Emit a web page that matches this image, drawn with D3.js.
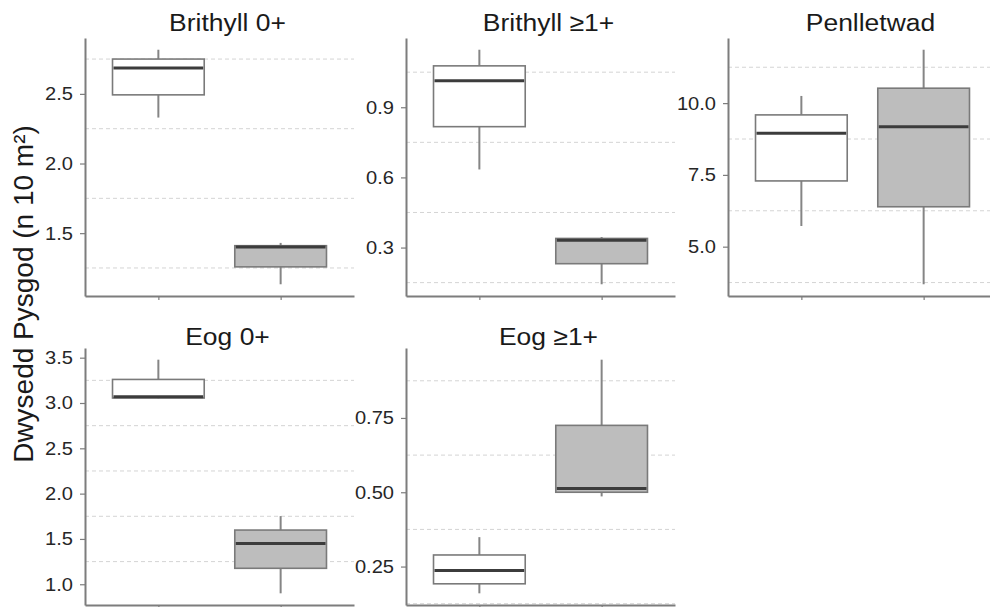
<!DOCTYPE html>
<html>
<head>
<meta charset="utf-8">
<script src="https://cdn.jsdelivr.net/npm/d3@7"></script>
<style>
  body { margin: 0; background: #fff; }
  svg { display: block; }
</style>
</head>
<body>
<svg id="chart" width="990" height="607"></svg>
<script>
// Two sampling groups per panel (no x labels are drawn)
const groups = ["grŵp 1", "grŵp 2"];

const panelTitles = ["Brithyll 0+", "Brithyll \u22651+", "Penlletwad", "Eog 0+", "Eog \u22651+"];

// Five-number summaries: [lower whisker, Q1, median, Q3, upper whisker]
const brithyll0 = [[2.33, 2.493, 2.685, 2.75, 2.817], [1.133, 1.258, 1.40, 1.41, 1.43]];
const brithyll1 = [[0.634, 0.817, 1.013, 1.077, 1.146], [0.143, 0.231, 0.331, 0.339, 0.345]];
const penlletwad = [[5.72, 7.29, 8.95, 9.59, 10.25], [3.69, 6.39, 9.18, 10.52, 11.86]];
const eog0 = [[3.05, 3.055, 3.07, 3.26, 3.478], [0.90, 1.176, 1.451, 1.598, 1.752]];
const eog1 = [[0.160, 0.192, 0.2365, 0.289, 0.349], [0.486, 0.50, 0.5125, 0.725, 0.946]];

const panelStats = [brithyll0, brithyll1, penlletwad, eog0, eog1];

// Y tick values and formats per panel
const ticksBrithyll0 = [1.5, 2.0, 2.5];
const ticksBrithyll1 = [0.3, 0.6, 0.9];
const ticksPenlletwad = [5.0, 7.5, 10.0];
const ticksEog0 = [1.0, 1.5, 2.0, 2.5, 3.0, 3.5];
const ticksEog1 = [0.25, 0.50, 0.75];
const panelTicks = [ticksBrithyll0, ticksBrithyll1, ticksPenlletwad, ticksEog0, ticksEog1];
const tickFormats = [".1f", ".1f", ".1f", ".1f", ".2f"];

const yTitle = "Dwysedd Pysgod (n 10 m\u00b2)";

// Layout
const svg = d3.select("#chart");
const FONT = "'Liberation Sans', Arial, sans-serif";
const panelW = 269;
const colX = [85, 406, 728];
const rowY = [[38, 296], [348, 605]];
const titleBase = [31, 345];
const fills = ["#ffffff", "#bdbdbd"];
const axisColor = "#7d7d7d";

panelStats.forEach((stats, i) => {
  const col = i % 3, row = Math.floor(i / 3);
  const x0 = colX[col], x1 = x0 + panelW;
  const [yTop, yBot] = rowY[row];

  const lo = d3.min(stats, s => s[0]);
  const hi = d3.max(stats, s => s[4]);
  const pad = (hi - lo) * 0.05;
  const y = d3.scaleLinear().domain([lo - pad, hi + pad]).range([yBot, yTop]);
  const x = d3.scalePoint().domain(groups).range([x0, x1]).padding(0.6);
  const boxW = x.step() * 0.75;

  const g = svg.append("g");

  // minor grid lines halfway between the major ticks
  const ticks = panelTicks[i];
  const step = ticks[1] - ticks[0];
  const minor = [];
  for (let v = ticks[0] - step / 2 - step * 4; v <= hi + pad + 1e-9; v += step) {
    if (v >= lo - pad) minor.push(v);
  }
  g.append("g").selectAll("line").data(minor).join("line")
    .attr("x1", x0).attr("x2", x1)
    .attr("y1", d => y(d)).attr("y2", d => y(d))
    .attr("stroke", "#d4d4d4").attr("stroke-width", 1)
    .attr("stroke-dasharray", "4,3");

  // boxes
  const box = g.append("g").selectAll("g").data(stats).join("g");
  box.append("line")
    .attr("x1", (d, j) => x(groups[j])).attr("x2", (d, j) => x(groups[j]))
    .attr("y1", d => y(d[4])).attr("y2", d => y(d[3]))
    .attr("stroke", "#858585").attr("stroke-width", 2);
  box.append("line")
    .attr("x1", (d, j) => x(groups[j])).attr("x2", (d, j) => x(groups[j]))
    .attr("y1", d => y(d[1])).attr("y2", d => y(d[0]))
    .attr("stroke", "#858585").attr("stroke-width", 2);
  box.append("rect")
    .attr("x", (d, j) => x(groups[j]) - boxW / 2)
    .attr("width", boxW)
    .attr("y", d => y(d[3]))
    .attr("height", d => y(d[1]) - y(d[3]))
    .attr("fill", (d, j) => fills[j])
    .attr("stroke", "#7a7a7a").attr("stroke-width", 1.6);
  box.append("line")
    .attr("x1", (d, j) => x(groups[j]) - boxW / 2 + 1)
    .attr("x2", (d, j) => x(groups[j]) + boxW / 2 - 1)
    .attr("y1", d => y(d[2])).attr("y2", d => y(d[2]))
    .attr("stroke", "#3c3c3c").attr("stroke-width", 3);

  // y axis
  const yAxis = g.append("g")
    .attr("transform", `translate(${x0},0)`)
    .call(d3.axisLeft(y).tickValues(ticks).tickFormat(d3.format(tickFormats[i]))
      .tickSize(5).tickSizeOuter(0));
  yAxis.select(".domain").attr("stroke", axisColor).attr("stroke-width", 2);
  yAxis.selectAll(".tick line").attr("stroke", axisColor).attr("stroke-width", 1.2);
  yAxis.selectAll(".tick text")
    .attr("x", 0)
    .attr("transform", "translate(-12,0) scale(1.08,1)")
    .attr("fill", "#262626")
    .style("font-family", FONT).style("font-size", "18.6px");

  // x axis (no labels)
  const xAxis = g.append("g")
    .attr("transform", `translate(0,${yBot})`)
    .call(d3.axisBottom(x).tickFormat("").tickSize(4).tickSizeOuter(0));
  xAxis.select(".domain").attr("stroke", axisColor).attr("stroke-width", 2);
  xAxis.selectAll(".tick line").attr("stroke", axisColor).attr("stroke-width", 1.2);

  // panel title
  svg.append("text")
    .attr("transform", `translate(${(x0 + x1) / 2 + 8},${titleBase[row]}) scale(1.08,1)`)
    .attr("text-anchor", "middle")
    .attr("fill", "#1a1a1a")
    .style("font-family", FONT).style("font-size", "24.5px")
    .text(panelTitles[i]);
});

// shared y-axis title
svg.append("text")
  .attr("transform", "translate(33,294) rotate(-90)")
  .attr("text-anchor", "middle")
  .attr("fill", "#1a1a1a")
  .style("font-family", FONT).style("font-size", "28px")
  .text(yTitle);
</script>
</body>
</html>
